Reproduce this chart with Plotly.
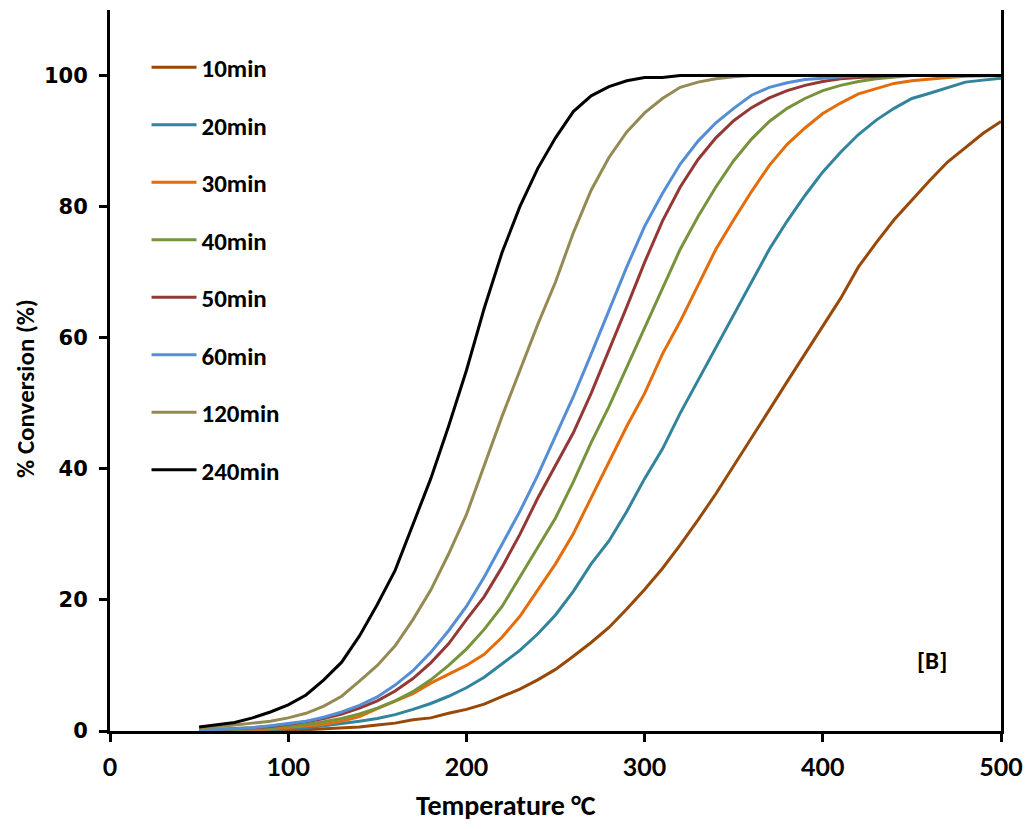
import plotly.graph_objects as go

temps = list(range(50, 501, 10))

labels = ["10min", "20min", "30min", "40min", "50min", "60min", "120min", "240min"]
colors = ["#984807", "#31849B", "#E46C0A", "#77933C", "#953735", "#558ED5", "#948A54", "#000000"]

conv_10 = [0, 0, 0, 0, 0.05, 0.1, 0.2, 0.3, 0.4, 0.6, 0.9, 1.2, 1.7, 2.0, 2.7, 3.3, 4.1, 5.2, 6.4, 7.8,
           9.4, 11.4, 13.5, 15.8, 18.6, 21.6, 24.8, 28.4, 32.2, 36.2, 40.4, 44.6, 49, 53.3, 57.5, 61.8,
           66, 70.8, 74.5, 78, 81, 84, 86.8, 89, 91.2, 93]
conv_20 = [0, 0.02, 0.05, 0.1, 0.2, 0.3, 0.5, 0.8, 1.1, 1.5, 1.9, 2.5, 3.3, 4.2, 5.3, 6.6, 8.2, 10.2, 12.3,
           14.8, 17.7, 21.3, 25.5, 29, 33.5, 38.5, 43, 48.5, 53.5, 58.5, 63.5, 68.5, 73.5, 77.8, 81.7,
           85.3, 88.3, 91, 93.2, 95, 96.5, 97.3, 98.2, 99, 99.3, 99.6]
conv_30 = [0.03, 0.05, 0.1, 0.2, 0.3, 0.5, 0.7, 1.0, 1.5, 2.2, 3.4, 4.5, 5.7, 7.3, 8.6, 10, 11.7, 14.3,
           17.5, 21.5, 25.5, 30.1, 35.5, 41, 46.5, 51.5, 57.5, 62.5, 68, 73.5, 78, 82.3, 86.3, 89.5, 92,
           94.2, 95.8, 97.2, 98, 98.8, 99.2, 99.5, 99.7, 99.9, 100, 100]
conv_40 = [0.05, 0.1, 0.2, 0.3, 0.5, 0.7, 1.0, 1.4, 1.9, 2.6, 3.5, 4.6, 6.0, 7.8, 10, 12.5, 15.5, 19,
           23.5, 28, 32.5, 38, 44, 49.5, 55.5, 61.5, 67.5, 73.5, 78.5, 83, 87, 90.3, 93, 95, 96.5, 97.7,
           98.5, 99.1, 99.5, 99.8, 100, 100, 100, 100, 100, 100]
conv_50 = [0.1, 0.2, 0.3, 0.5, 0.7, 1.0, 1.4, 1.9, 2.6, 3.5, 4.6, 6.1, 8.0, 10.4, 13.3, 17, 20.5, 25,
           30, 35.5, 40.5, 45.5, 51.5, 58, 64.7, 71.5, 77.8, 83, 87.2, 90.5, 93.1, 95.1, 96.6, 97.7,
           98.5, 99.1, 99.5, 99.7, 99.9, 100, 100, 100, 100, 100, 100, 100]
conv_60 = [0.1, 0.2, 0.3, 0.5, 0.8, 1.1, 1.5, 2.1, 2.9, 3.9, 5.2, 7.0, 9.2, 12, 15.3, 19, 23.5, 28.5,
           33.5, 39, 45, 51, 57.5, 64.3, 70.8, 77, 82, 86.5, 90, 92.8, 95, 97, 98.2, 98.9, 99.4,
           99.6, 99.8, 100, 100, 100, 100, 100, 100, 100, 100, 100]
conv_120 = [0.4, 0.6, 0.9, 1.2, 1.5, 2.0, 2.7, 3.8, 5.3, 7.6, 10.0, 13.0, 17.0, 21.5, 27, 33, 40.5, 48,
            55, 62, 68.5, 76, 82.5, 87.5, 91.4, 94.3, 96.5, 98.2, 99.0, 99.5, 99.8, 100, 100, 100, 100,
            100, 100, 100, 100, 100, 100, 100, 100, 100, 100, 100]
conv_240 = [0.6, 0.9, 1.3, 2.0, 2.9, 4.0, 5.5, 7.8, 10.5, 14.5, 19.3, 24.5, 31.5, 38.5, 46.5, 55, 64.5,
            73, 80, 85.8, 90.5, 94.5, 96.9, 98.3, 99.2, 99.7, 99.7, 100, 100, 100, 100, 100, 100, 100,
            100, 100, 100, 100, 100, 100, 100, 100, 100, 100, 100, 100]

series = [conv_10, conv_20, conv_30, conv_40, conv_50, conv_60, conv_120, conv_240]

FONT = "Carlito, Lato, 'Liberation Sans', sans-serif"
XTICK_FONT = "'Liberation Sans Narrow', 'Arial Narrow', Lato, sans-serif"
YTICK_FONT = "'DejaVu Sans', Verdana, sans-serif"

fig = go.Figure()
for name, col, vals in zip(labels, colors, series):
    fig.add_trace(go.Scatter(x=temps, y=vals, mode="lines", name=name,
                             legendgroup=name,
                             line=dict(color=col, width=3)))

fig.update_layout(
    width=1032, height=829,
    paper_bgcolor="white", plot_bgcolor="white",
    margin=dict(l=102, r=39, t=2, b=106),
    font=dict(family=FONT, size=20, color="black"),
    showlegend=True,
    legend=dict(x=0.041, y=0.952, xanchor="left", yanchor="top",
                bgcolor="rgba(0,0,0,0)", tracegroupgap=22, itemwidth=45,
                font=dict(family=FONT, size=25, color="black", weight="bold")),
    xaxis=dict(range=[0, 500], dtick=100, tick0=0, showgrid=False, zeroline=False,
               showline=True, linecolor="black", linewidth=3,
               ticks="outside", ticklen=8, tickwidth=3, tickcolor="black",
               ticklabelstandoff=4,
               tickfont=dict(family=XTICK_FONT, size=25, weight="bold")),
    yaxis=dict(range=[0, 110], dtick=20, tick0=0, showgrid=False, zeroline=False,
               showline=True, linecolor="black", linewidth=3, mirror=True,
               ticks="outside", ticklen=8, tickwidth=3, tickcolor="black",
               ticklabelstandoff=7,
               tickfont=dict(family=YTICK_FONT, size=21, weight="bold")),
    annotations=[
        dict(x=461, y=10.8, xref="x", yref="y", text="<b>[B]</b>", showarrow=False,
             font=dict(family=FONT, size=25, color="black")),
        dict(x=(506 - 110) / 891, y=(731 - 805) / 721, xref="paper", yref="paper",
             text="<b>Temperature °C</b>", showarrow=False, xanchor="center", yanchor="middle",
             font=dict(family=FONT, size=28, color="black")),
        dict(x=(25 - 110) / 891, y=(731 - 389) / 721, xref="paper", yref="paper",
             text="<b>% Conversion (%)</b>", showarrow=False, textangle=-90,
             xanchor="center", yanchor="middle",
             font=dict(family=FONT, size=25, color="black")),
    ],
)

fig.write_html("out.html")
